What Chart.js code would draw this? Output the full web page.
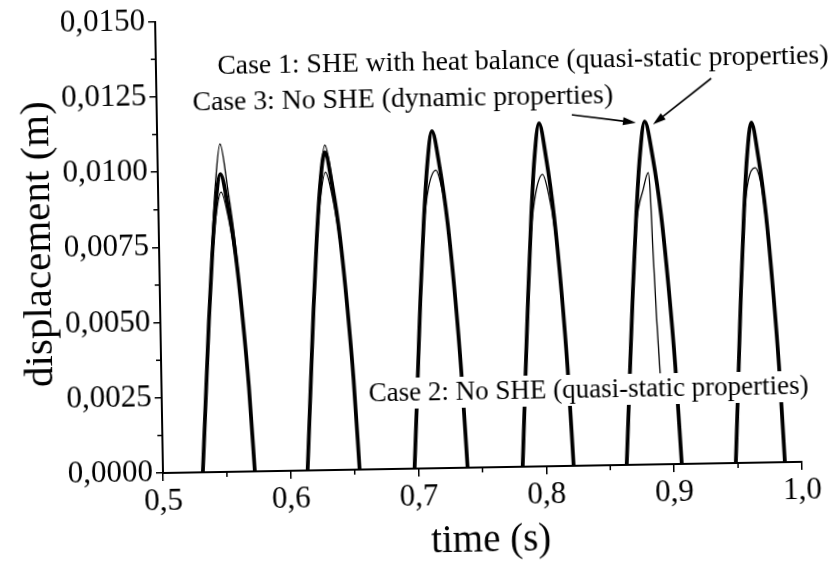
<!DOCTYPE html>
<html>
<head>
<meta charset="utf-8">
<script src="https://cdn.jsdelivr.net/npm/chart.js@4"></script>
<style>
  html, body { margin: 0; padding: 0; background: #fff; overflow: hidden; }
  #chart { display: block; transform: rotate(-1deg); transform-origin: 163px 473px; }
</style>
</head>
<body>
<canvas id="chart" width="837" height="569"></canvas>
<script>
const xTicks = [0.5, 0.6, 0.7, 0.8, 0.9, 1.0];
const xTickLabels = ['0,5', '0,6', '0,7', '0,8', '0,9', '1,0'];
const xMinor = [0.55, 0.65, 0.75, 0.85, 0.95];
const yTicks = [0, 0.0025, 0.005, 0.0075, 0.01, 0.0125, 0.015];
const yTickLabels = ['0,0000', '0,0025', '0,0050', '0,0075', '0,0100', '0,0125', '0,0150'];
const yMinor = [0.00125, 0.00375, 0.00625, 0.00875, 0.01125, 0.01375];

// Case 1: SHE with heat balance (thick line); null = gap between impacts
const caseOneTime = [
  0.5312, 0.5350, 0.5380, 0.5415, 0.5448, 0.5489, 0.5544, 0.5598, 0.5646, 0.5684, 0.5719, 0.59,
  0.6132, 0.6170, 0.6200, 0.6235, 0.6268, 0.6309, 0.6364, 0.6418, 0.6466, 0.6504, 0.6539, 0.675,
  0.6969, 0.7008, 0.7038, 0.7074, 0.7108, 0.7150, 0.7206, 0.7261, 0.7310, 0.7348, 0.7384, 0.76,
  0.7815, 0.7852, 0.7882, 0.7916, 0.7948, 0.7989, 0.8042, 0.8095, 0.8143, 0.8180, 0.8214, 0.84,
  0.8629, 0.8669, 0.8701, 0.8738, 0.8773, 0.8816, 0.8875, 0.8932, 0.8983, 0.9023, 0.9060, 0.925,
  0.9483, 0.9519, 0.9547, 0.9580, 0.9611, 0.9650, 0.9702, 0.9753, 0.9798, 0.9834, 0.9867
];
const caseOneDisp = [
  0, 0.00282, 0.00502, 0.00722, 0.00886, 0.00990, 0.00885, 0.00720, 0.00500, 0.00280, 0, null,
  0, 0.00301, 0.00535, 0.00770, 0.00945, 0.01056, 0.00944, 0.00768, 0.00533, 0.00299, 0, null,
  0, 0.00319, 0.00568, 0.00816, 0.01002, 0.01120, 0.01001, 0.00814, 0.00566, 0.00317, 0, null,
  0, 0.00325, 0.00578, 0.00831, 0.01020, 0.01140, 0.01019, 0.00829, 0.00576, 0.00323, 0, null,
  0, 0.00325, 0.00578, 0.00831, 0.01020, 0.01140, 0.01019, 0.00829, 0.00576, 0.00323, 0, null,
  0, 0.00322, 0.00573, 0.00824, 0.01011, 0.01130, 0.01010, 0.00822, 0.00571, 0.00320, 0
];

// Case 3: No SHE, dynamic properties (thin, on top of case 1 after 2nd impact)
const caseThreeTime = [
  0.5312, 0.5350, 0.5380, 0.5415, 0.5448, 0.5491, 0.5544, 0.5598, 0.5646, 0.5684, 0.5719, 0.59,
  0.6132, 0.6170, 0.6200, 0.6235, 0.6268, 0.6311, 0.6364, 0.6418, 0.6466, 0.6504, 0.6539, 0.675,
  0.6969, 0.7008, 0.7038, 0.7074, 0.7108, 0.7150, 0.7206, 0.7261, 0.7310, 0.7348, 0.7384, 0.76,
  0.7815, 0.7852, 0.7882, 0.7916, 0.7948, 0.7989, 0.8042, 0.8095, 0.8143, 0.8180, 0.8214, 0.84,
  0.8629, 0.8669, 0.8701, 0.8738, 0.8773, 0.8816, 0.8875, 0.8932, 0.8983, 0.9023, 0.9060, 0.925,
  0.9483, 0.9519, 0.9547, 0.9580, 0.9611, 0.9650, 0.9702, 0.9753, 0.9798, 0.9834, 0.9867
];
const caseThreeDisp = [
  0, 0.00285, 0.00515, 0.00760, 0.00950, 0.01090, 0.00945, 0.00755, 0.00510, 0.00282, 0, null,
  0, 0.00301, 0.00540, 0.00782, 0.00965, 0.01080, 0.00962, 0.00778, 0.00538, 0.00299, 0, null,
  0, 0.00319, 0.00568, 0.00816, 0.01002, 0.01120, 0.01001, 0.00814, 0.00566, 0.00317, 0, null,
  0, 0.00325, 0.00578, 0.00831, 0.01020, 0.01140, 0.01019, 0.00829, 0.00576, 0.00323, 0, null,
  0, 0.00325, 0.00578, 0.00831, 0.01020, 0.01140, 0.01019, 0.00829, 0.00576, 0.00323, 0, null,
  0, 0.00322, 0.00573, 0.00824, 0.01011, 0.01130, 0.01010, 0.00822, 0.00571, 0.00320, 0
];

// Case 2: No SHE, quasi-static properties (thin, lower arches)
const caseTwoTime = [
  0.5312, 0.5350, 0.5380, 0.5415, 0.5450, 0.5493, 0.5544, 0.5598, 0.5646, 0.5684, 0.5719, 0.59,
  0.6132, 0.6170, 0.6200, 0.6235, 0.6270, 0.6311, 0.6364, 0.6418, 0.6466, 0.6504, 0.6539, 0.675,
  0.6969, 0.7008, 0.7038, 0.7074, 0.7115, 0.7176, 0.7222, 0.7265, 0.7310, 0.7348, 0.7384, 0.76,
  0.7815, 0.7852, 0.7882, 0.7916, 0.7955, 0.8010, 0.8055, 0.8097, 0.8143, 0.8180, 0.8214, 0.84,
  0.8629, 0.8669, 0.8701, 0.8738, 0.8796, 0.8837, 0.8849, 0.8864, 0.8883, 0.8902, 0.8912, 0.925,
  0.9483, 0.9519, 0.9547, 0.9580, 0.9620, 0.9673, 0.9720, 0.9755, 0.9798, 0.9834, 0.9867
];
const caseTwoDisp = [
  0, 0.00280, 0.00495, 0.00700, 0.00850, 0.00930, 0.00850, 0.00700, 0.00495, 0.00278, 0, null,
  0, 0.00300, 0.00530, 0.00750, 0.00905, 0.00990, 0.00905, 0.00750, 0.00530, 0.00298, 0, null,
  0, 0.00319, 0.00566, 0.00800, 0.00930, 0.00990, 0.00925, 0.00800, 0.00565, 0.00317, 0, null,
  0, 0.00325, 0.00576, 0.00790, 0.00910, 0.00970, 0.00905, 0.00790, 0.00574, 0.00323, 0, null,
  0, 0.00325, 0.00578, 0.00800, 0.00915, 0.00970, 0.00915, 0.00707, 0.00486, 0.00312, 0.00220, null,
  0, 0.00322, 0.00573, 0.00810, 0.00940, 0.00980, 0.00920, 0.00790, 0.00571, 0.00320, 0
];

const serif = "'Liberation Serif', 'DejaVu Serif', serif";

const toPoints = (time, disp) => time.map((t, i) => ({ x: t, y: disp[i] }));

const lineStyle = (width) => ({
  borderColor: '#000',
  borderWidth: width,
  pointRadius: 0,
  fill: false,
  spanGaps: false,
  cubicInterpolationMode: 'monotone'
});

function fitFont(ctx, text, width) {
  ctx.font = '20px ' + serif;
  const size = 20 * width / ctx.measureText(text).width;
  return size.toFixed(1) + 'px ' + serif;
}

function arrow(ctx, x1, y1, x2, y2) {
  const a = Math.atan2(y2 - y1, x2 - x1);
  ctx.beginPath();
  ctx.moveTo(x1, y1);
  ctx.lineTo(x2 - 8 * Math.cos(a), y2 - 8 * Math.sin(a));
  ctx.lineWidth = 1.6;
  ctx.stroke();
  ctx.beginPath();
  ctx.moveTo(x2, y2);
  ctx.lineTo(x2 - 13 * Math.cos(a) + 4 * Math.sin(a), y2 - 13 * Math.sin(a) - 4 * Math.cos(a));
  ctx.lineTo(x2 - 13 * Math.cos(a) - 4 * Math.sin(a), y2 - 13 * Math.sin(a) + 4 * Math.cos(a));
  ctx.closePath();
  ctx.fill();
}

const decorations = {
  id: 'decorations',
  afterDatasetsDraw(chart) {
    const ctx = chart.ctx;
    ctx.save();
    ctx.fillStyle = '#000';
    ctx.strokeStyle = '#000';
    ctx.textAlign = 'center';
    ctx.textBaseline = 'middle';

    // label for case 2 sits on a white box that hides the curves
    const t2 = 'Case 2: No SHE (quasi-static properties)';
    ctx.fillStyle = '#fff';
    ctx.fillRect(368, 382, 446, 31);
    ctx.fillStyle = '#000';
    ctx.font = fitFont(ctx, t2, 440);
    ctx.fillText(t2, 590, 398);

    const t1 = 'Case 1: SHE with heat balance (quasi-static properties)';
    const labelFont = fitFont(ctx, t1, 611);
    ctx.font = labelFont;
    ctx.fillText(t1, 530, 68);

    const t3 = 'Case 3: No SHE (dynamic properties)';
    ctx.textAlign = 'left';
    ctx.fillText(t3, 199, 104);
    ctx.textAlign = 'center';

    arrow(ctx, 578, 122, 642, 131);
    arrow(ctx, 718, 88, 659, 133);

    // minor ticks
    const xs = chart.scales.x;
    const ys = chart.scales.y;
    ctx.lineWidth = 1.5;
    ctx.beginPath();
    xMinor.forEach((v) => {
      const px = xs.getPixelForValue(v);
      ctx.moveTo(px, ys.bottom);
      ctx.lineTo(px, ys.bottom + 5);
    });
    yMinor.forEach((v) => {
      const py = ys.getPixelForValue(v);
      ctx.moveTo(xs.left, py);
      ctx.lineTo(xs.left - 5, py);
    });
    ctx.stroke();

    // axis titles
    ctx.font = '39px ' + serif;
    ctx.fillText('time (s)', 490, 547);
    ctx.font = '41px ' + serif;
    ctx.save();
    ctx.translate(43, 242);
    ctx.rotate(-Math.PI / 2);
    ctx.fillText('displacement (m)', 0, 0);
    ctx.restore();
    ctx.restore();
  }
};

new Chart(document.getElementById('chart'), {
  type: 'line',
  data: {
    datasets: [
      { label: 'Case 2', data: toPoints(caseTwoTime, caseTwoDisp), ...lineStyle(1.3) },
      { label: 'Case 3', data: toPoints(caseThreeTime, caseThreeDisp), ...lineStyle(1.3) },
      { label: 'Case 1', data: toPoints(caseOneTime, caseOneDisp), ...lineStyle(3.8) }
    ]
  },
  options: {
    responsive: false,
    animation: false,
    layout: { padding: { top: 18, right: 35, left: 0, bottom: 0 } },
    plugins: { legend: { display: false }, tooltip: { enabled: false } },
    scales: {
      x: {
        type: 'linear',
        min: 0.5,
        max: 1.0,
        afterFit: (scale) => { scale.height = 96; },
        afterBuildTicks: (scale) => { scale.ticks = xTicks.map((v) => ({ value: v })); },
        border: { display: true, color: '#000', width: 2 },
        grid: { drawOnChartArea: false, drawTicks: true, tickLength: 8, color: '#000', lineWidth: 1.5 },
        ticks: {
          autoSkip: false,
          maxRotation: 0,
          padding: 2,
          color: '#000',
          font: { family: serif, size: 31 },
          callback: (value, index) => xTickLabels[index]
        }
      },
      y: {
        min: 0,
        max: 0.015,
        afterFit: (scale) => { scale.width = 163; },
        afterBuildTicks: (scale) => { scale.ticks = yTicks.map((v) => ({ value: v })); },
        border: { display: true, color: '#000', width: 2 },
        grid: { drawOnChartArea: false, drawTicks: true, tickLength: 7, color: '#000', lineWidth: 1.5 },
        ticks: {
          autoSkip: false,
          padding: 3,
          color: '#000',
          font: { family: serif, size: 31 },
          callback: (value, index) => yTickLabels[index]
        }
      }
    }
  },
  plugins: [decorations]
});
</script>
</body>
</html>
